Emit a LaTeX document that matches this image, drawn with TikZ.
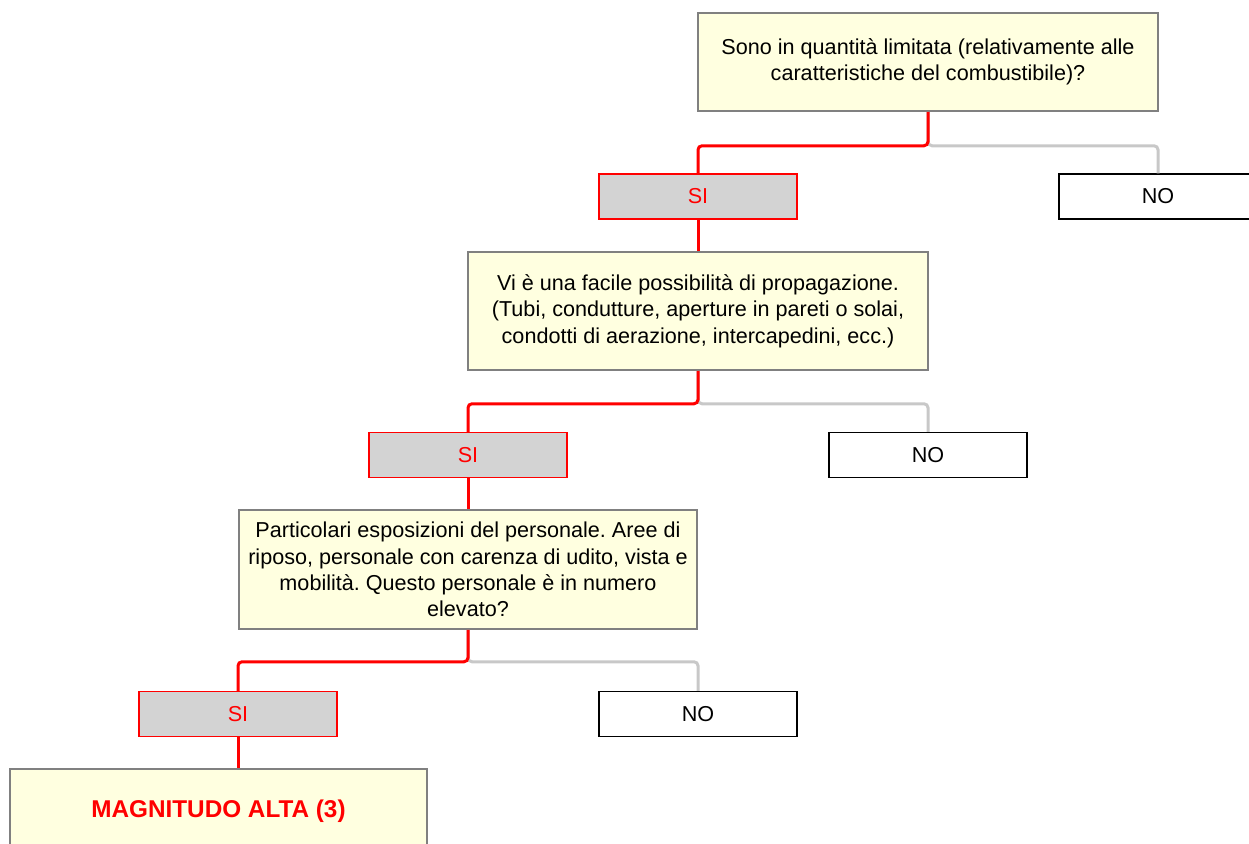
\documentclass[tikz,border=0pt]{standalone}
\usepackage{fontspec}
\setmainfont{Liberation Sans}
\usepackage{tikz}
\definecolor{boxfill}{HTML}{FFFFE0}
\definecolor{boxline}{HTML}{808080}
\definecolor{sifill}{HTML}{D3D3D3}
\definecolor{grayline}{HTML}{C8C8C8}
\frenchspacing

\begin{document}
\begin{tikzpicture}[x=1pt,y=-1pt]
\tikzstyle{every node}+=[inner sep=0pt, font=\fontsize{21.6}{26.3}\selectfont]
\tikzstyle{question}=[draw=boxline, fill=boxfill, line width=1.5pt, minimum width=460pt, align=center]
\tikzstyle{sibox}=[draw=red, fill=sifill, text=red, line width=1.5pt, minimum width=198pt, minimum height=45pt]
\tikzstyle{nobox}=[draw=black, fill=white, line width=1.5pt, minimum width=198pt, minimum height=45pt]
\tikzstyle{redline}=[red, line width=3pt, rounded corners=4pt]
\tikzstyle{grayl}=[grayline, line width=3pt, rounded corners=4pt]
\useasboundingbox (0,0) rectangle (1249,843);
\node [question, minimum height=98pt] (q1) at (928,62) {Sono in quantità limitata (relativamente alle\\caratteristiche del combustibile)?};
\node [sibox] (si1) at (698,196.5) {SI};
\node [nobox] (no1) at (1158,196.5) {NO};
\node [question, minimum height=118pt] (q2) at (698,311) {Vi è una facile possibilità di propagazione.\\(Tubi, condutture, aperture in pareti o solai,\\condotti di aerazione, intercapedini, ecc.)};
\node [sibox] (si2) at (468,455) {SI};
\node [nobox] (no2) at (928,455) {NO};
\node [question, minimum width=458pt, minimum height=119pt] (q3) at (468,569.5) {Particolari esposizioni del personale. Aree di\\riposo, personale con carenza di udito, vista e\\mobilità. Questo personale è in numero\\elevato?};
\node [sibox] (si3) at (238,714) {SI};
\node [nobox] (no3) at (698,714) {NO};
\node [question, minimum width=417pt, minimum height=84pt, text=red, font=\bfseries\fontsize{24.3}{28}\selectfont] (res) at (218.5,811) {MAGNITUDO ALTA (3)};
\draw [grayl] (q1.south) -- ++(0,34) -| (no1.north);
\draw [redline] (q1.south) -- ++(0,34) -| (si1.north);
\draw [redline] (si1.south) -- (q2.north);
\draw [grayl] (q2.south) -- ++(0,33) -| (no2.north);
\draw [redline] (q2.south) -- ++(0,33) -| (si2.north);
\draw [redline] (si2.south) -- (q3.north);
\draw [grayl] (q3.south) -- ++(0,32) -| (no3.north);
\draw [redline] (q3.south) -- ++(0,32) -| (si3.north);
\draw [redline] (si3.south) -- (si3.south |- res.north);
\end{tikzpicture}
\end{document}
